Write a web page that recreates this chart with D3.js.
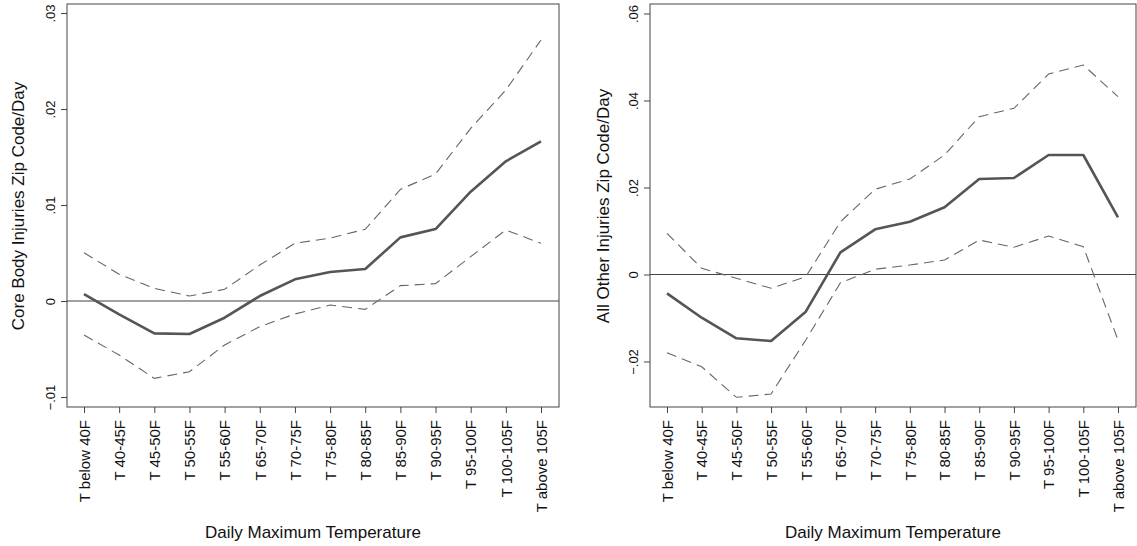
<!DOCTYPE html>
<html>
<head>
<meta charset="utf-8">
<script src="https://cdn.jsdelivr.net/npm/d3@7"></script>
<style>
  body { margin: 0; background: #fff; }
  svg { display: block; font-family: "Liberation Sans", Arial, sans-serif; }
</style>
</head>
<body>
<svg id="chart" width="1137" height="546"></svg>
<script>
var categories = ["T below 40F", "T 40-45F", "T 45-50F", "T 50-55F", "T 55-60F", "T 65-70F",
	"T 70-75F", "T 75-80F", "T 80-85F", "T 85-90F", "T 90-95F", "T 95-100F", "T 100-105F", "T above 105F"];

// left panel: core body injuries
var coreEst = [0.00073, -0.00139, -0.00337, -0.00344, -0.00174, 0.00052, 0.00226, 0.00302, 0.00333, 0.00663, 0.0075, 0.01139, 0.01455, 0.01663];
var coreHi = [0.00503, 0.00278, 0.00132, 0.00052, 0.00122, 0.00375, 0.00601, 0.00656, 0.00747, 0.01163, 0.01323, 0.01799, 0.02198, 0.02719];
var coreLo = [-0.00354, -0.00563, -0.00806, -0.00736, -0.00458, -0.00267, -0.00135, -0.00042, -0.00087, 0.0016, 0.00181, 0.00462, 0.0074, 0.00601];
var coreTicks = [-0.01, 0, 0.01, 0.02, 0.03];

// right panel: all other injuries
var otherEst = [-0.00433, -0.00993, -0.01467, -0.01529, -0.00855, 0.0051, 0.01039, 0.01214, 0.01545, 0.02195, 0.02218, 0.02747, 0.02747, 0.01315];
var otherHi = [0.00947, 0.00143, -0.00087, -0.00317, -0.00051, 0.01214, 0.01959, 0.02195, 0.02747, 0.03628, 0.03821, 0.04609, 0.04816, 0.04087];
var otherLo = [-0.01798, -0.0212, -0.02823, -0.02747, -0.01506, -0.00189, 0.0012, 0.00218, 0.00333, 0.00793, 0.00625, 0.00885, 0.00639, -0.01506];
var otherTicks = [-0.02, 0, 0.02, 0.04, 0.06];

var svg = d3.select("#chart");

function fmtTick(v) {
	// stata style: .03, 0, -.01
	if (v === 0) return "0";
	return d3.format(".2f")(v).replace("0.", ".");
}

function drawPanel(opts) {
	var g = svg.append("g");
	var x = d3.scalePoint().domain(categories).range([opts.left + 17, opts.right - 18]);
	var y = d3.scaleLinear().domain(opts.domain).range([407, 4]);

	// frame
	g.append("rect")
		.attr("x", opts.left).attr("y", 4)
		.attr("width", opts.right - opts.left).attr("height", 403)
		.attr("fill", "none").attr("stroke", "#444").attr("stroke-width", 1);

	// y axis
	var yAxis = g.append("g")
		.attr("transform", "translate(" + opts.left + ",0)")
		.call(d3.axisLeft(y).tickValues(opts.ticks).tickFormat(fmtTick).tickSize(6));
	yAxis.select(".domain").remove();
	yAxis.selectAll("line").attr("stroke", "#444");
	yAxis.selectAll("text")
		.attr("font-size", 13).attr("fill", "#111")
		.attr("transform", "rotate(-90)")
		.attr("x", 0).attr("y", -12).attr("dy", 0)
		.attr("text-anchor", "middle");

	// x axis
	var xAxis = g.append("g")
		.attr("transform", "translate(0,407)")
		.call(d3.axisBottom(x).tickSize(6));
	xAxis.select(".domain").remove();
	xAxis.selectAll("line").attr("stroke", "#444");
	xAxis.selectAll("text")
		.attr("font-size", 15).attr("fill", "#111")
		.attr("transform", "rotate(-90)")
		.attr("x", -13).attr("y", 0).attr("dy", "0.35em")
		.attr("text-anchor", "end");

	// zero line
	g.append("line")
		.attr("x1", opts.left).attr("x2", opts.right)
		.attr("y1", y(0)).attr("y2", y(0))
		.attr("stroke", "#444").attr("stroke-width", 1.2);

	var line = d3.line()
		.x(function(d, i) { return x(categories[i]); })
		.y(function(d) { return y(d); });

	[opts.hi, opts.lo].forEach(function(arr) {
		g.append("path").datum(arr)
			.attr("d", line)
			.attr("fill", "none").attr("stroke", "#666")
			.attr("stroke-width", 1.1)
			.attr("stroke-dasharray", "10,6");
	});

	g.append("path").datum(opts.est)
		.attr("d", line)
		.attr("fill", "none").attr("stroke", "#555")
		.attr("stroke-width", 2.6)
		.attr("stroke-linejoin", "round");

	// titles
	g.append("text")
		.attr("transform", "translate(" + opts.ytitleX + ",206) rotate(-90)")
		.attr("text-anchor", "middle")
		.attr("font-size", 17).attr("fill", "#111")
		.text(opts.ytitle);
	g.append("text")
		.attr("x", (opts.left + opts.right) / 2).attr("y", 538)
		.attr("text-anchor", "middle")
		.attr("font-size", 17).attr("fill", "#111")
		.text("Daily Maximum Temperature");
}

drawPanel({
	left: 67, right: 559,
	domain: [-0.01104, 0.03094],
	ticks: coreTicks,
	est: coreEst, hi: coreHi, lo: coreLo,
	ytitle: "Core Body Injuries Zip Code/Day",
	ytitleX: 24
});

drawPanel({
	left: 650, right: 1136,
	domain: [-0.03046, 0.06218],
	ticks: otherTicks,
	est: otherEst, hi: otherHi, lo: otherLo,
	ytitle: "All Other Injuries Zip Code/Day",
	ytitleX: 609
});
</script>
</body>
</html>
